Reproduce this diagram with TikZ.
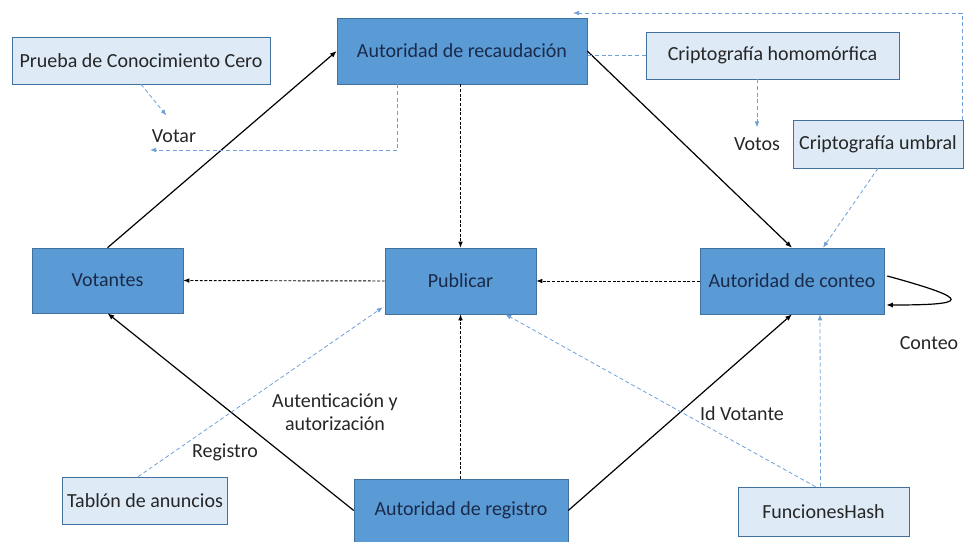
\documentclass[tikz,border=0pt]{standalone}
\usepackage{fontspec}
\setmainfont{Carlito}
\usetikzlibrary{arrows.meta, calc}

\definecolor{boxdark}{HTML}{5B9BD5}
\definecolor{boxlight}{HTML}{DEEBF7}
\definecolor{edgeblue}{HTML}{41719C}
\definecolor{dashblue}{HTML}{6FA0D8}
\definecolor{navytext}{HTML}{1A2A4A}
\newcommand{\lbl}{\fontsize{15}{17.5}\selectfont}
\newcommand{\pxu}{0.75pt}

\begin{document}
\begin{tikzpicture}[x=0.75pt, y=-0.75pt,
    dk/.style={draw=edgeblue, fill=boxdark, text=navytext, font=\lbl, align=center},
    lt/.style={draw=edgeblue, fill=boxlight, text=black!85, font=\lbl, align=center},
    lab/.style={font=\lbl, text=black!85, align=center},
    arr/.style={-{Latex[length=5pt,width=4pt]}, line width=0.9pt},
    darr/.style={-{Latex[length=4.5pt,width=3.5pt]}, line width=0.7pt, dash pattern=on 2.2pt off 1.3pt},
    bdash/.style={draw=dashblue, line width=0.6pt, dash pattern=on 3pt off 2pt},
    barr/.style={bdash, -{Latex[length=4.5pt,width=3.5pt]}},
]
    \useasboundingbox (0,0) rectangle (964,542);

    % main boxes
    \node[dk, minimum width=250*\pxu, minimum height=66*\pxu] (rec) at (462,51) {Autoridad de recaudación};
    \node[dk, minimum width=151*\pxu, minimum height=65*\pxu] (vot) at (107.5,280.5) {Votantes};
    \node[dk, minimum width=151*\pxu, minimum height=66*\pxu] (pub) at (460.5,281) {Publicar};
    \node[dk, minimum width=184*\pxu, minimum height=66*\pxu] (con) at (792,281) {Autoridad de conteo};
    \node[dk, minimum width=214*\pxu, minimum height=63*\pxu] (reg) at (461,510.5) {Autoridad de registro};

    % tools
    \node[lt, minimum width=258*\pxu, minimum height=47*\pxu] (zkp) at (141,60.5) {Prueba de Conocimiento Cero};
    \node[lt, minimum width=253*\pxu, minimum height=47*\pxu] (hom) at (772.5,55.5) {Criptografía homomórfica};
    \node[lt, minimum width=170*\pxu, minimum height=48*\pxu] (umb) at (878,144) {Criptografía umbral};
    \node[lt, minimum width=164*\pxu, minimum height=47*\pxu] (tab) at (145,500.5) {Tablón de anuncios};
    \node[lt, minimum width=171*\pxu, minimum height=49*\pxu] (hash) at (823.5,511.5) {FuncionesHash};

    % labels
    \node[lab] (votar) at (174,136) {Votar};
    \node[lab] (votos) at (757,144) {Votos};
    \node[lab] (conteo) at (929,343) {Conteo};
    \node[lab] (auth) at (335,412) {Autenticación y\\autorización};
    \node[lab] (registro) at (225,452) {Registro};
    \node[lab] (idv) at (742,414) {Id Votante};

    \coordinate (vt) at (150,150);
    \coordinate (tp) at (573,13);

    % solid flows
    \draw[arr] (vot.north) -- (rec.west);
    \draw[arr] (rec.east) -- (con.north);
    \draw[arr] (reg.east) -- (con.south);
    \draw[arr, {Latex[length=5pt,width=4pt]}-] (vot.south) -- (reg.west);
    \draw[arr] ($(con.east)+(3,-5)$) .. controls (975,300) and (968,305) .. ($(con.east)+(2,24)$);

    % publishing
    \draw[darr] (rec.south -| pub.north) -- (pub.north);
    \draw[darr] (reg.north -| pub.south) -- (pub.south);
    \draw[darr] (pub.west) -- (vot.east);
    \draw[darr] (con.west) -- (pub.east);

    % crypto links
    \draw[barr, shorten >=9pt] (zkp.south) -- (votar.north);
    \draw[barr] ($(rec.south west)+(61,0)$) |- (vt);
    \draw[bdash] (hom.west) -- (hom.west -| rec.east);
    \draw[barr, shorten >=4pt] (hom.south -| votos.north) -- (votos.north);
    \draw[barr] ($(umb.north east)+(-1,0)$) |- (tp);
    \draw[barr] (umb.south) -- ($(con.north)+(31,0)$);
    \draw[barr] ($(hash.north)+(-3,0)$) -- ($(con.south)+(28,0)$);
    \draw[barr] ($(hash.north)+(-8,0)$) -- ($(pub.south east)+(-31,0)$);
    \draw[barr] ($(tab.north)+(-7,0)$) -- ($(pub.south west)+(-2,-7)$);
\end{tikzpicture}
\end{document}
